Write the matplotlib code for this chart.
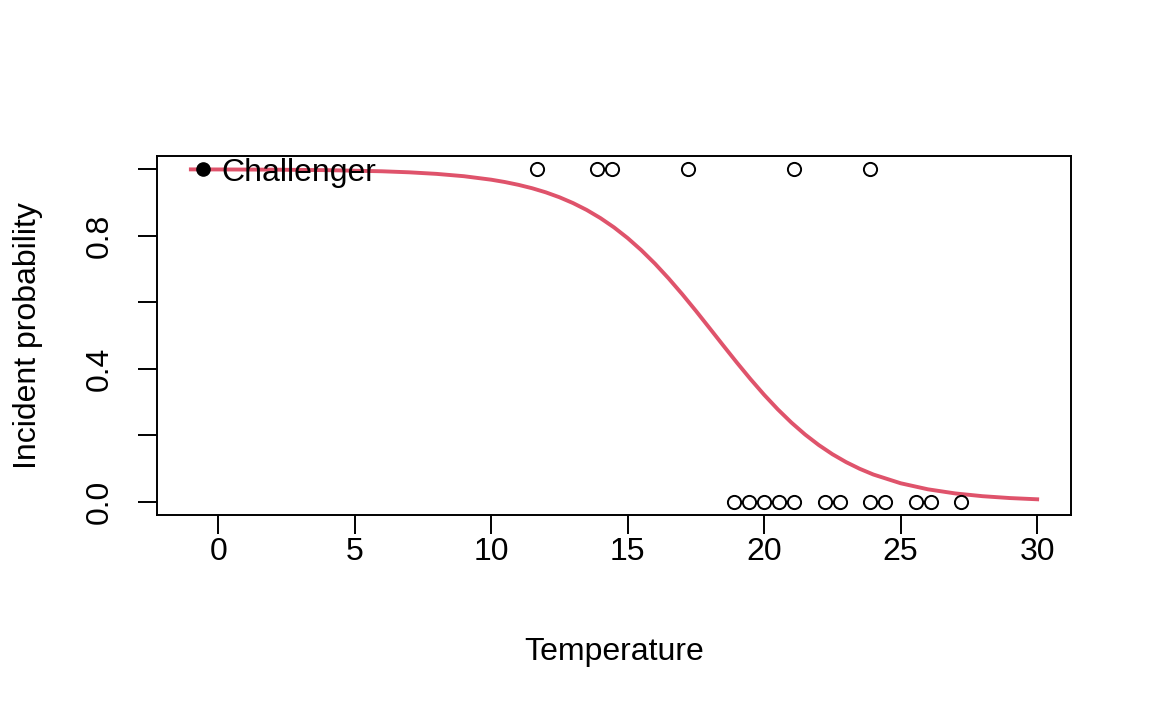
import numpy as np
import matplotlib.pyplot as plt

# launch temperatures (deg C) and whether an O-ring incident happened
temp_incident = [11.67, 13.89, 14.44, 17.22, 21.11, 23.89]
temp_ok = [18.89, 19.44, 20.0, 20.56, 21.11, 22.22, 22.78, 23.89,
           24.44, 25.56, 26.11, 27.22]

# Challenger launch temperature
challenger_temp = -0.56

# fitted incident probability
curve_temp = [-1, 0, 2, 4, 6, 7, 8, 9, 10, 10.5, 11, 11.5, 12, 12.5, 13,
              13.5, 14, 14.5, 15, 15.5, 16, 16.5, 17, 17.5, 18, 18.5, 19,
              19.5, 20, 20.5, 21, 21.5, 22, 22.5, 23, 23.5, 24, 25, 26,
              27, 28, 29, 30]
curve_prob = [0.9997, 0.9995, 0.9989, 0.9974, 0.9940, 0.9909, 0.9862,
              0.9792, 0.9687, 0.9617, 0.9532, 0.9430, 0.9307, 0.9159,
              0.8983, 0.8776, 0.8533, 0.8252, 0.7930, 0.7566, 0.7161,
              0.6717, 0.6241, 0.5740, 0.5222, 0.4700, 0.4185, 0.3687,
              0.3215, 0.2777, 0.2378, 0.2020, 0.1704, 0.1428, 0.1191,
              0.0989, 0.0817, 0.0554, 0.0372, 0.0248, 0.0165, 0.0109,
              0.0072]

plt.rcParams["font.family"] = ["Liberation Sans", "DejaVu Sans"]
fs = 23

fig = plt.figure(figsize=(11.52, 7.11), dpi=100)
ax = fig.add_axes([0.1363, 0.2757, 0.7934, 0.5049])

ax.plot(curve_temp, curve_prob, color="#DF536B", lw=2.8, zorder=2,
        solid_joinstyle="round")

ax.plot(temp_incident, [1] * len(temp_incident), "o", mfc="none",
        mec="black", ms=9.5, mew=1.4, zorder=3)
ax.plot(temp_ok, [0] * len(temp_ok), "o", mfc="none",
        mec="black", ms=9.5, mew=1.4, zorder=3)

ax.plot([challenger_temp], [1], "o", color="black", ms=9.5, zorder=3)
ax.text(challenger_temp + 0.68, 1, "Challenger", fontsize=fs,
        va="center_baseline", ha="left", zorder=4)

ax.set_xlim(-2.24, 31.24)
ax.set_ylim(-0.04, 1.04)

ax.set_xticks([0, 5, 10, 15, 20, 25, 30])
ax.set_yticks([0, 0.2, 0.4, 0.6, 0.8, 1.0])
ax.set_yticklabels(["0.0", "", "0.4", "", "0.8", ""])
for lbl in ax.get_yticklabels():
    lbl.set_rotation(90)
    lbl.set_va("center")

ax.tick_params(direction="out", length=13.5, width=1.4, labelsize=fs)
ax.tick_params(axis="x", pad=2)
ax.tick_params(axis="y", pad=17)
for sp in ax.spines.values():
    sp.set_linewidth(1.4)

ax.set_xlabel("Temperature", fontsize=fs, labelpad=51)
ax.set_ylabel("Incident probability", fontsize=fs, labelpad=30)

fig.savefig("out.png", dpi=100)
